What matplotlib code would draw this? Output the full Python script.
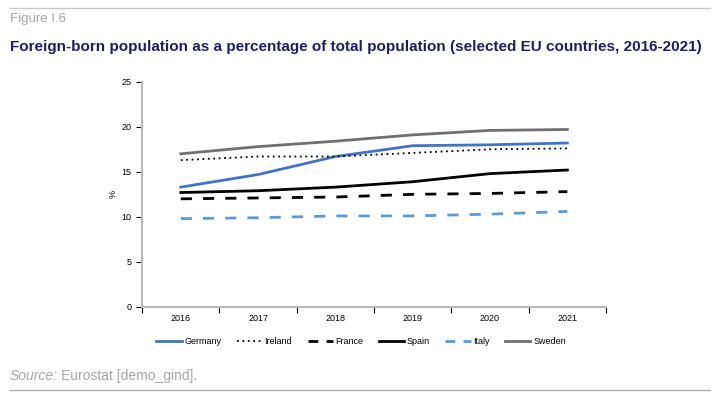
import matplotlib.pyplot as plt
from matplotlib.lines import Line2D

plt.rcParams['font.family'] = ['Liberation Sans', 'DejaVu Sans']

years = ['2016', '2017', '2018', '2019', '2020', '2021']
germany = [13.3, 14.7, 16.7, 17.9, 18.0, 18.2]
ireland = [16.3, 16.7, 16.7, 17.1, 17.5, 17.6]
france = [12.0, 12.1, 12.2, 12.5, 12.6, 12.8]
spain = [12.7, 12.9, 13.3, 13.9, 14.8, 15.2]
italy = [9.8, 9.9, 10.1, 10.1, 10.3, 10.6]
sweden = [17.0, 17.8, 18.4, 19.1, 19.6, 19.7]

fig = plt.figure(figsize=(7.18, 3.97), dpi=100)
ax = fig.add_axes([0.198, 0.227, 0.646, 0.567])

x = range(len(years))
ax.plot(x, germany, color='#4472c4', lw=2, label='Germany')
ax.plot(x, ireland, color='black', lw=1.3, linestyle=(0, (1, 2)), label='Ireland')
ax.plot(x, france, color='black', lw=2, linestyle=(0, (4, 4)), label='France')
ax.plot(x, spain, color='black', lw=2, label='Spain')
ax.plot(x, italy, color='#5b9bd5', lw=2, linestyle=(0, (4, 4)), label='Italy')
ax.plot(x, sweden, color='#707070', lw=2, label='Sweden')

ax.set_xlim(-0.5, len(years) - 0.5)
ax.set_ylim(0, 25)
ax.set_yticks([0, 5, 10, 15, 20, 25])
ax.set_xticks(list(x))
ax.set_xticklabels(years)
ax.set_xticks([i - 0.5 for i in range(len(years) + 1)], minor=True)
ax.tick_params(axis='x', which='major', length=0, labelsize=6.5, pad=5)
ax.tick_params(axis='x', which='minor', length=4, width=0.8, direction='out', color='black')
ax.tick_params(axis='y', length=4, width=0.8, direction='out', labelsize=6.5, color='black')
ax.set_ylabel('%', fontsize=6.5, labelpad=3)
for s in ['top', 'right']:
    ax.spines[s].set_visible(False)
for s in ['left', 'bottom']:
    ax.spines[s].set_color('#b8b8b8')
    ax.spines[s].set_linewidth(1.5)

handles = [Line2D([], [], color='#4472c4', lw=2),
           Line2D([], [], color='black', lw=1.3, linestyle=(0, (1, 2))),
           Line2D([], [], color='black', lw=2, linestyle=(0, (3.5, 3))),
           Line2D([], [], color='black', lw=2),
           Line2D([], [], color='#5b9bd5', lw=2, linestyle=(0, (3.5, 3))),
           Line2D([], [], color='#707070', lw=2)]
fig.legend(handles, ['Germany', 'Ireland', 'France', 'Spain', 'Italy', 'Sweden'],
           loc='center', bbox_to_anchor=(361 / 718, 1 - 342 / 397), ncol=6,
           frameon=False, fontsize=6.5, handlelength=2.8, handletextpad=0.3,
           columnspacing=1.7)

fig.add_artist(Line2D([10 / 718, 710 / 718], [1 - 8 / 397, 1 - 8 / 397],
                      color='#c8c8c8', lw=1))
fig.add_artist(Line2D([10 / 718, 710 / 718], [1 - 390 / 397, 1 - 390 / 397],
                      color='#b0b0b0', lw=1))
fig.text(10 / 718, 1 - 19 / 397, 'Figure I.6', color='#a6a6a6', fontsize=9.5, va='center')
fig.text(10 / 718, 1 - 47 / 397,
         'Foreign-born population as a percentage of total population (selected EU countries, 2016-2021)',
         color='#1f1f5c', fontsize=11, fontweight='bold', va='center')
fig.text(10 / 718, 1 - 376 / 397, 'Source:', color='#a6a6a6', fontsize=10,
         style='italic', va='center')
fig.text(61 / 718, 1 - 376 / 397, 'Eurostat [demo_gind].', color='#a6a6a6', fontsize=10,
         va='center')

fig.savefig('out.png', dpi=100)
